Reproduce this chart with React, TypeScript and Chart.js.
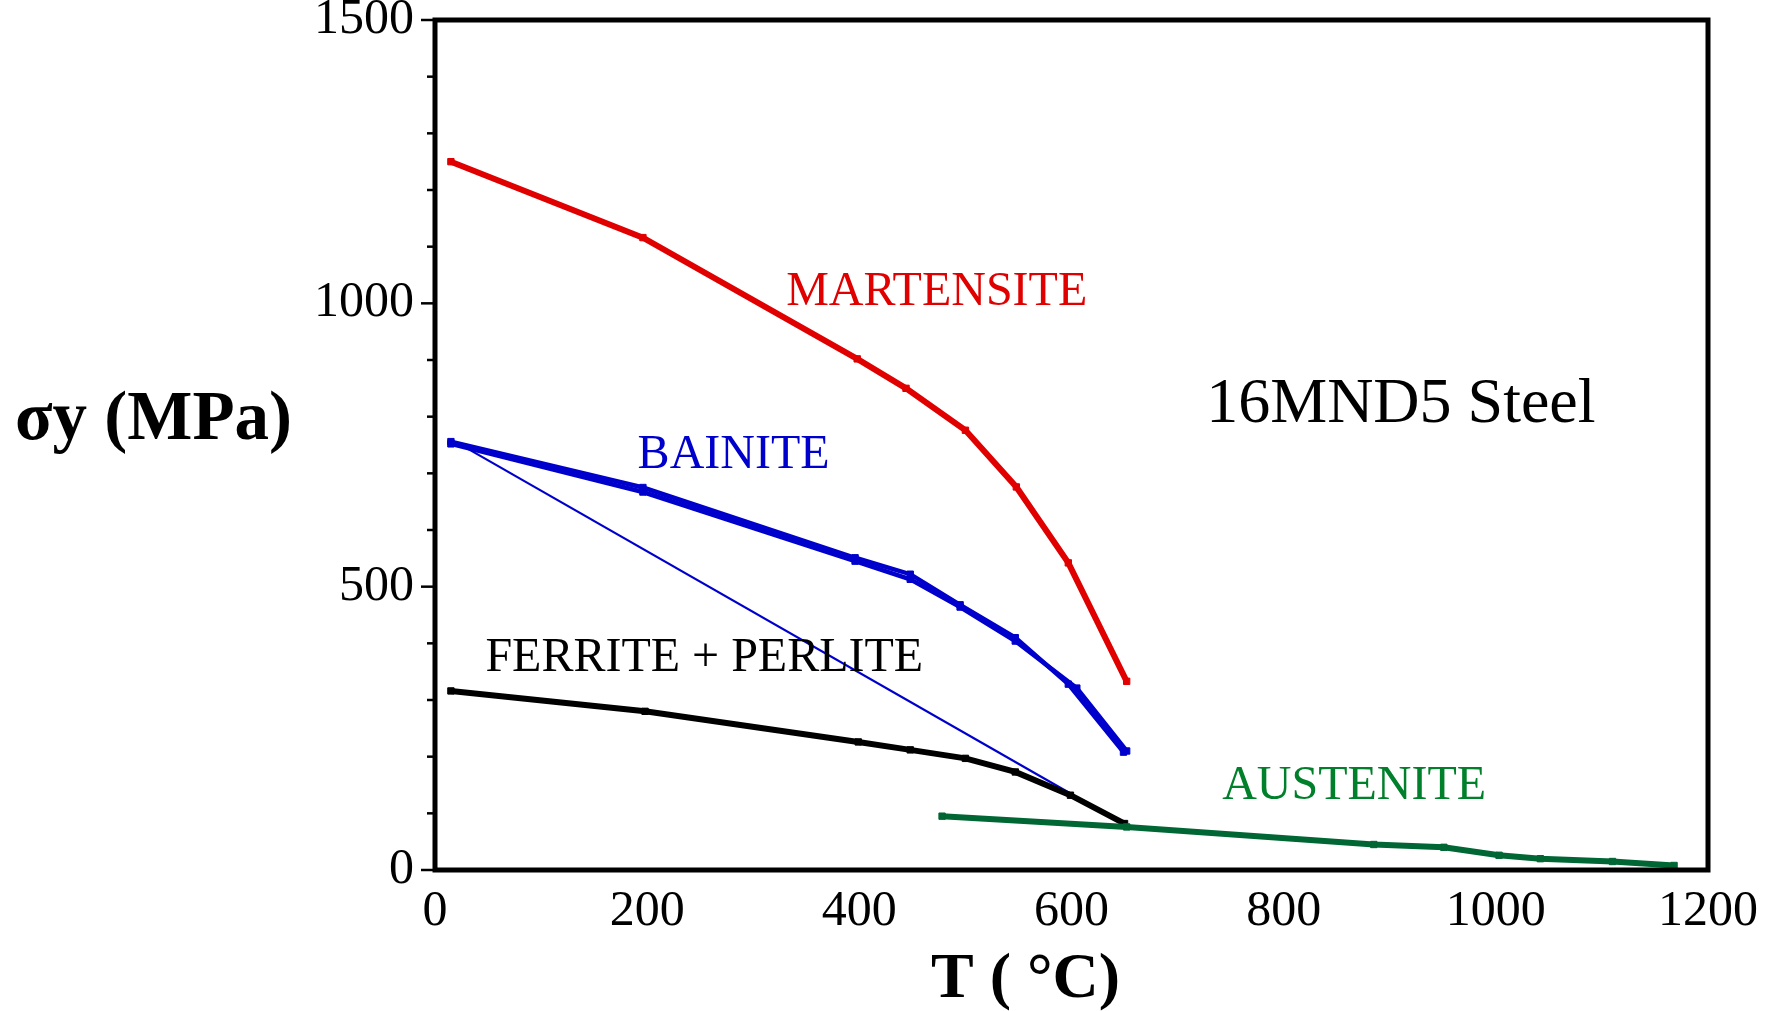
import React, { useEffect, useRef } from "react";
import { Chart, registerables } from "chart.js";

Chart.register(...registerables);

// Temperatures (°C) and yield stress (MPa) per phase
const martensiteT = [15, 196, 398, 444, 500, 548, 597, 652];
const martensiteS = [1250, 1116, 902, 850, 776, 676, 542, 333];

const bainiteT = [15, 196, 396, 448, 495, 547, 597, 649];
const bainiteS = [756, 675, 551, 522, 468, 410, 328, 208];
const bainiteT2 = [15, 196, 396, 448, 495, 547, 605, 652];
const bainiteS2 = [752, 667, 545, 513, 464, 404, 321, 210];
const bainiteThinT = [20, 599];
const bainiteThinS = [755, 135];

const ferriteT = [15, 198, 399, 448, 500, 547, 599, 650];
const ferriteS = [316, 280, 226, 212, 197, 173, 132, 82];

const austeniteT = [478, 652, 885, 951, 1003, 1042, 1110, 1168];
const austeniteS = [95, 76, 45, 40, 26, 20, 15, 8];

const xTicks = [0, 200, 400, 600, 800, 1000, 1200];
const yLabels = [0, 500, 1000, 1500];

const RED = "#e00000";
const BLUE = "#0000cc";
const BLACK = "#000000";
const GREEN = "#006633";
const GREEN_TEXT = "#00802b";

const annotations = [
  { text: "MARTENSITE", color: RED, t: 331, s: 1020, font: "48px 'Liberation Serif'" },
  { text: "BAINITE", color: BLUE, t: 191, s: 732, font: "48px 'Liberation Serif'" },
  { text: "FERRITE + PERLITE", color: BLACK, t: 47.5, s: 374, font: "48px 'Liberation Serif'" },
  { text: "AUSTENITE", color: GREEN_TEXT, t: 742, s: 148, font: "48px 'Liberation Serif'" },
  { text: "16MND5 Steel", color: BLACK, t: 727, s: 820, font: "64px 'Liberation Serif'" },
];

const pts = (xs: number[], ys: number[]) => xs.map((x, i) => ({ x, y: ys[i] }));

const frameAndText = {
  id: "frameAndText",
  afterDraw(chart: any) {
    const { ctx, chartArea } = chart;
    const xs = chart.scales.x;
    const ys = chart.scales.y;
    ctx.save();
    ctx.strokeStyle = "#000";
    ctx.lineWidth = 5;
    ctx.strokeRect(chartArea.left, chartArea.top, chartArea.right - chartArea.left, chartArea.bottom - chartArea.top);
    ctx.lineWidth = 2.5;
    for (let v = 0; v <= 1500; v += 100) {
      const y = ys.getPixelForValue(v);
      const len = v % 500 === 0 ? 14 : 8;
      ctx.beginPath();
      ctx.moveTo(chartArea.left - len, y);
      ctx.lineTo(chartArea.left, y);
      ctx.stroke();
    }
    ctx.textBaseline = "middle";
    ctx.textAlign = "left";
    for (const a of annotations) {
      ctx.font = a.font;
      ctx.fillStyle = a.color;
      ctx.fillText(a.text, xs.getPixelForValue(a.t), ys.getPixelForValue(a.s));
    }
    ctx.fillStyle = "#000";
    ctx.font = "bold 69px 'Liberation Serif'";
    ctx.fillText("σy (MPa)", 15, 421);
    ctx.font = "bold 64px 'Liberation Serif'";
    ctx.fillText("T ( °C)", 931, 980);
    ctx.restore();
  },
};

export default function App() {
  const ref = useRef<HTMLCanvasElement>(null);
  useEffect(() => {
    if (!ref.current) return;
    const line = (data: any, color: string, width: number, markers = true) => ({
      data,
      borderColor: color,
      backgroundColor: color,
      borderWidth: width,
      pointRadius: markers ? 4.5 : 0,
      pointStyle: "rect",
      pointBorderWidth: 1,
      pointBackgroundColor: color,
      pointBorderColor: color,
      tension: 0,
      showLine: true,
    });
    const chart = new Chart(ref.current, {
      type: "scatter",
      data: {
        datasets: [
          line(pts(austeniteT, austeniteS), GREEN, 6),
          line(pts(ferriteT, ferriteS), BLACK, 6),
          line(pts(bainiteThinT, bainiteThinS), BLUE, 2.2, false),
          line(pts(bainiteT2, bainiteS2), BLUE, 4.5),
          line(pts(bainiteT, bainiteS), BLUE, 4.5),
          line(pts(martensiteT, martensiteS), RED, 6),
        ] as any,
      },
      options: {
        responsive: false,
        animation: false,
        layout: { padding: { left: 0, top: 20, right: 72, bottom: 0 } },
        plugins: { legend: { display: false }, tooltip: { enabled: false } },
        scales: {
          x: {
            type: "linear",
            min: 0,
            max: 1200,
            afterBuildTicks: (s: any) => {
              s.ticks = xTicks.map((v) => ({ value: v }));
            },
            ticks: {
              color: "#000",
              font: { family: "'Liberation Serif'", size: 50 },
              padding: 4,
              maxRotation: 0,
              callback: (v: any) => String(v),
            },
            grid: { display: false },
            border: { display: false },
            afterFit: (s: any) => {
              s.height = 141;
              s.paddingLeft = 0;
              s.paddingRight = 0;
            },
          },
          y: {
            type: "linear",
            min: 0,
            max: 1500,
            afterBuildTicks: (s: any) => {
              s.ticks = yLabels.map((v) => ({ value: v }));
            },
            ticks: {
              color: "#000",
              font: { family: "'Liberation Serif'", size: 50 },
              padding: 13,
              callback: (v: any) => String(v),
            },
            grid: { display: false },
            border: { display: false },
            afterFit: (s: any) => {
              s.width = 435;
              s.paddingTop = 0;
              s.paddingBottom = 0;
            },
          },
        },
      },
      plugins: [frameAndText],
    });
    return () => chart.destroy();
  }, []);
  return (
    <div style={{ position: "fixed", left: 0, top: 0, width: 1780, height: 1011, background: "#fff" }}>
      <canvas ref={ref} width={1780} height={1011} style={{ display: "block" }} />
    </div>
  );
}
